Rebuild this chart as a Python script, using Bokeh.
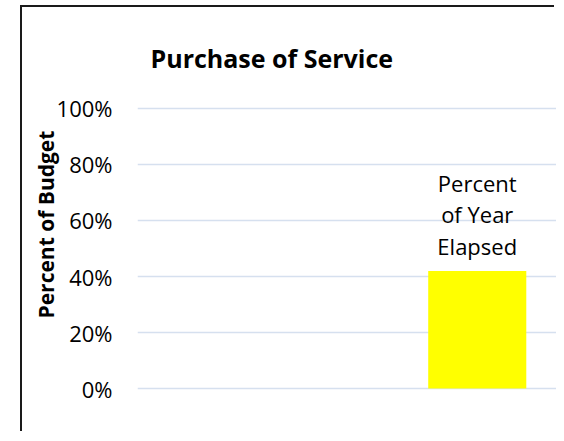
from bokeh.plotting import figure
from bokeh.models import Range1d, NumeralTickFormatter, ColumnDataSource, FixedTicker, Title
from bokeh.embed import file_html
from bokeh.resources import INLINE
from bokeh.core.properties import value

# ---- data ----
categories = ["Percent of Budget Expended", "Percent of Year Elapsed"]
values = [0.0, 0.42]
bar_labels = ["", "Percent\nof Year\nElapsed"]
y_ticks = [0.0, 0.2, 0.4, 0.6, 0.8, 1.0]
title_text = "Purchase of Service"
y_label_text = "Percent of Budget"

# ---- layout (page px) ----
ox, oy = 22, 7                     # canvas origin on the page
W, H = 556 - ox, 433 - oy
frame_left, frame_top, frame_bottom = 137, 105, 390
y0_page, y1_page = 388, 107        # pixel rows of 0% and 100%
ppu_y = y0_page - y1_page
px_per_cat = 226.5
x_end = (ox + W - frame_left) / px_per_cat

xpos = [i + 0.5 for i in range(len(categories))]
src = ColumnDataSource(dict(x=xpos, top=values, label=bar_labels, cat=categories))

p = figure(width=W, height=H, output_backend="svg", toolbar_location=None,
           x_range=Range1d(0, x_end),
           y_range=Range1d(-(frame_bottom - y0_page) / ppu_y, 1 + (y1_page - frame_top) / ppu_y),
           min_border_left=frame_left - ox, min_border_top=frame_top - oy,
           min_border_right=0, min_border_bottom=H - (frame_bottom - oy),
           styles={"box-shadow": "-2px -2px 0 0 #1a1a1a",
                   "margin-left": f"{ox}px", "margin-top": f"{oy}px"})
p.outline_line_color = None

p.vbar(x="x", top="top", width=0.433, bottom=0, source=src,
       fill_color="#ffff00", line_color=None)

p.text(x="x", y="top", text="label", source=src, text_align="center",
       text_baseline="bottom", y_offset=-10, text_font=value("Open Sans"),
       text_font_size="22px", text_color="#000000", text_line_height=1.05)

# axes
p.xaxis.visible = False
p.xgrid.visible = False
yax = p.yaxis[0]
yax.ticker = FixedTicker(ticks=y_ticks)
yax.formatter = NumeralTickFormatter(format="0%")
yax.axis_line_color = None
yax.major_tick_line_color = None
yax.minor_tick_line_color = None
yax.major_tick_out = 0
yax.major_tick_in = 0
yax.major_label_standoff = 25
yax.major_label_text_font = "Open Sans"
yax.major_label_text_font_size = "22px"
yax.major_label_text_color = "#000000"

p.ygrid.ticker = FixedTicker(ticks=y_ticks)
p.ygrid.grid_line_color = "#d6e0ef"
p.ygrid.grid_line_width = 1.5

# title
p.title.text = title_text
p.title.text_font = "Open Sans"
p.title.text_font_style = "bold"
p.title.text_font_size = "25px"
p.title.text_color = "#000000"
p.title.align = "left"
p.title.offset = 13
p.title.standoff = 63

# y axis label as a left-side title
ylab = Title(text=y_label_text, align="left", offset=frame_bottom - 318,
             text_font="Open Sans", text_font_style="bold", text_font_size="21px",
             text_color="#000000", standoff=-12)
p.add_layout(ylab, "left")

open("out.html", "w").write(file_html(p, INLINE))
